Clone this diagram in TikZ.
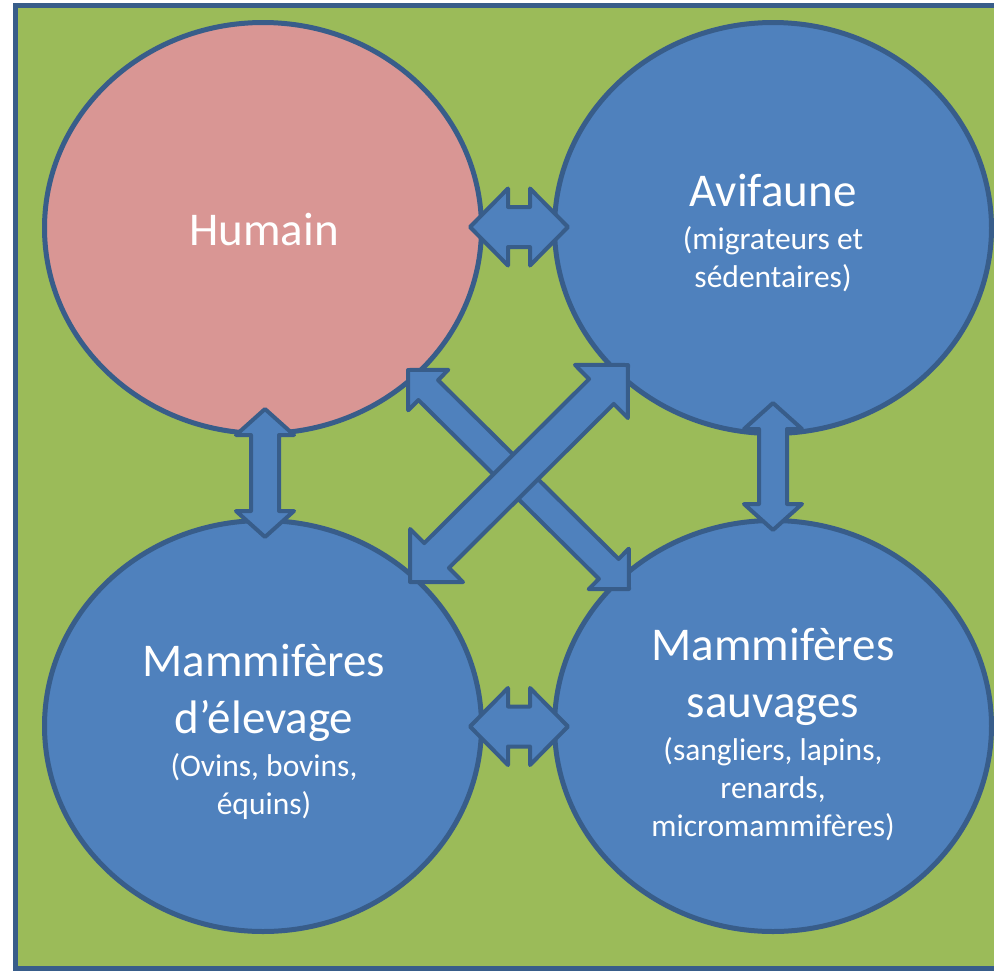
\documentclass[tikz,border=0pt]{standalone}
\usepackage{fontspec}
\setmainfont{Carlito}
\usetikzlibrary{shapes.geometric,calc}
\definecolor{fondvert}{HTML}{9BBB59}
\definecolor{bleu}{HTML}{4F81BD}
\definecolor{rose}{HTML}{D99694}
\definecolor{contour}{HTML}{385D8A}
\tikzset{
  cercle/.style={ellipse, draw=contour, line width=5pt, minimum width=437pt, minimum height=411pt, inner sep=0pt},
  fleche/.style={fill=bleu, draw=contour, line width=4pt, line join=round},
  texte/.style={text=white, align=center, inner sep=0pt, font=\fontsize{31.5}{38}\selectfont},
}
\newcommand{\grandtexte}{\fontsize{47}{57}\selectfont}
% double block arrow: tip, tip, half shaft, half head, head length
\newcommand{\doublefleche}[5]{%
  \coordinate (ba) at ($(#1)!#5!(#2)$);
  \coordinate (bb) at ($(#2)!#5!(#1)$);
  \draw[fleche] (#1) -- ($(ba)!#4!90:(#2)$) -- ($(ba)!#3!90:(#2)$)
    -- ($(bb)!#3!-90:(#1)$) -- ($(bb)!#4!-90:(#1)$) -- (#2)
    -- ($(bb)!#4!90:(#1)$) -- ($(bb)!#3!90:(#1)$)
    -- ($(ba)!#3!-90:(#2)$) -- ($(ba)!#4!-90:(#2)$) -- cycle;
}
\begin{document}
\begin{tikzpicture}[x=1pt,y=1pt,yscale=-1]
    \useasboundingbox (0,0) rectangle (994,970);

    %Shape: Frame
    \draw [draw=contour, line width=5.5pt, fill=fondvert] (15.5,5.5) rectangle (1015,968.5);

    %Shape: Ellipses
    \node [cercle, fill=rose] (hum) at (263,228) {};
    \node [cercle, fill=bleu] (avi) at (773,228) {};
    \node [cercle, fill=bleu] (elev) at (263,726) {};
    \node [cercle, fill=bleu] (sauv) at (773,726) {};

    %Arrow tips
    \coordinate (ha) at ($(hum)+(207,-1)$);
    \coordinate (ah) at ($(avi)+(-205,-1)$);
    \coordinate (es) at ($(elev)+(207,0.5)$);
    \coordinate (se) at ($(sauv)+(-205,0.5)$);
    \coordinate (he) at ($(hum)+(2,181)$);
    \coordinate (eh) at ($(elev)+(2,-189)$);
    \coordinate (as) at ($(avi)+(0,175)$);
    \coordinate (sa) at ($(sauv)+(0,-196)$);
    \coordinate (hs) at ($(hum)+(145,142)$);
    \coordinate (sh) at ($(sauv)+(-144,-137)$);
    \coordinate (ae) at ($(avi)+(-145,137)$);
    \coordinate (ea) at ($(elev)+(147,-144)$);

    %Block Arrows
    \doublefleche{ha}{ah}{20pt}{38.5pt}{38pt}
    \doublefleche{es}{se}{20pt}{38.5pt}{38pt}
    \doublefleche{he}{eh}{14pt}{29pt}{26pt}
    \doublefleche{as}{sa}{14pt}{29pt}{26pt}
    \doublefleche{hs}{sh}{14pt}{28.5pt}{28.5pt}
    \doublefleche{ae}{ea}{17.5pt}{37.5pt}{37.5pt}

    % Text Node
    \node [texte] (thum) at (264,229) {\grandtexte Humain};
    % Text Node
    \node [texte] (tavi) at (773,233) {\grandtexte Avifaune\\[5pt] (migrateurs et\\ sédentaires)};
    % Text Node
    \node [texte] (telev) at (264,732) {\grandtexte Mammifères\\[19pt] \grandtexte d’élevage\\[5pt] (Ovins, bovins,\\ équins)};
    % Text Node
    \node [texte] (tsauv) at (773,735) {\grandtexte Mammifères\\[19pt] \grandtexte sauvages\\[5pt] (sangliers, lapins,\\ renards,\\ micromammifères)};

\end{tikzpicture}
\end{document}
